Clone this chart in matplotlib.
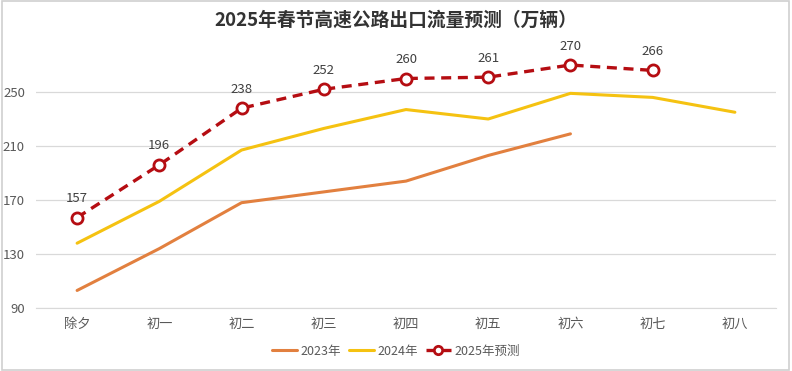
import matplotlib
matplotlib.use('Agg')
import matplotlib.pyplot as plt
from matplotlib.patches import Rectangle

plt.rcParams['font.family'] = ['Noto Sans CJK SC', 'DejaVu Sans']

# data
days = ['除夕', '初一', '初二', '初三', '初四', '初五', '初六', '初七', '初八']
y2023 = [103, 134, 168, 176, 184, 203, 219]
y2024 = [138, 169, 207, 223, 237, 230, 249, 246, 235]
y2025 = [157, 196, 238, 252, 260, 261, 270, 266]
yticks = [90, 130, 170, 210, 250]

fig = plt.figure(figsize=(7.92, 3.71), dpi=100)
ax = fig.add_axes([36 / 792, 63 / 371, 740 / 792, 270 / 371])

x = list(range(len(days)))
ax.plot(x[:len(y2023)], y2023, color='#E2803F', lw=2.2, label='2023年',
        solid_capstyle='round')
ax.plot(x[:len(y2024)], y2024, color='#F5C211', lw=2.2, label='2024年',
        solid_capstyle='round')
ax.plot(x[:len(y2025)], y2025, color='#B50D12', lw=2.4, ls=(0, (3, 2)),
        marker='o', ms=8, mfc='white', mec='#B50D12', mew=2.0,
        label='2025年预测')

for xi, v in zip(x, y2025):
    ax.annotate(str(v), (xi, v), xytext=(0, 9), textcoords='offset points',
                ha='center', va='bottom', fontsize=9.5, color='#404040')

ax.set_xlim(-0.5, len(days) - 0.5)
ax.set_ylim(90, 290)
ax.set_yticks(yticks)
ax.set_xticks(x)
ax.set_xticklabels(days)
ax.grid(axis='y', color='#D9D9D9', lw=0.9)
ax.set_axisbelow(True)
for s in ['top', 'right', 'left']:
    ax.spines[s].set_visible(False)
ax.spines['bottom'].set_color('#D9D9D9')
ax.tick_params(axis='both', length=0, labelsize=9.5, colors='#595959')
ax.tick_params(axis='y', pad=8)
ax.tick_params(axis='x', pad=7)

fig.text(0.5, 1 - 20 / 371, '2025年春节高速公路出口流量预测（万辆）',
         ha='center', va='center', fontsize=13.5, fontweight='bold',
         color='#333333')

fig.legend(loc='center', bbox_to_anchor=(0.5, 1 - 351 / 371), ncol=3,
           frameon=False, fontsize=9, handlelength=2.0, columnspacing=0.6,
           handletextpad=0.3, markerscale=0.75, labelcolor='#595959')

fig.patches.append(Rectangle((0.002, 0.003), 0.994, 0.994,
                             transform=fig.transFigure, fill=False,
                             ec='#D0D0D0', lw=1.2))

fig.savefig('out.png', dpi=100)
